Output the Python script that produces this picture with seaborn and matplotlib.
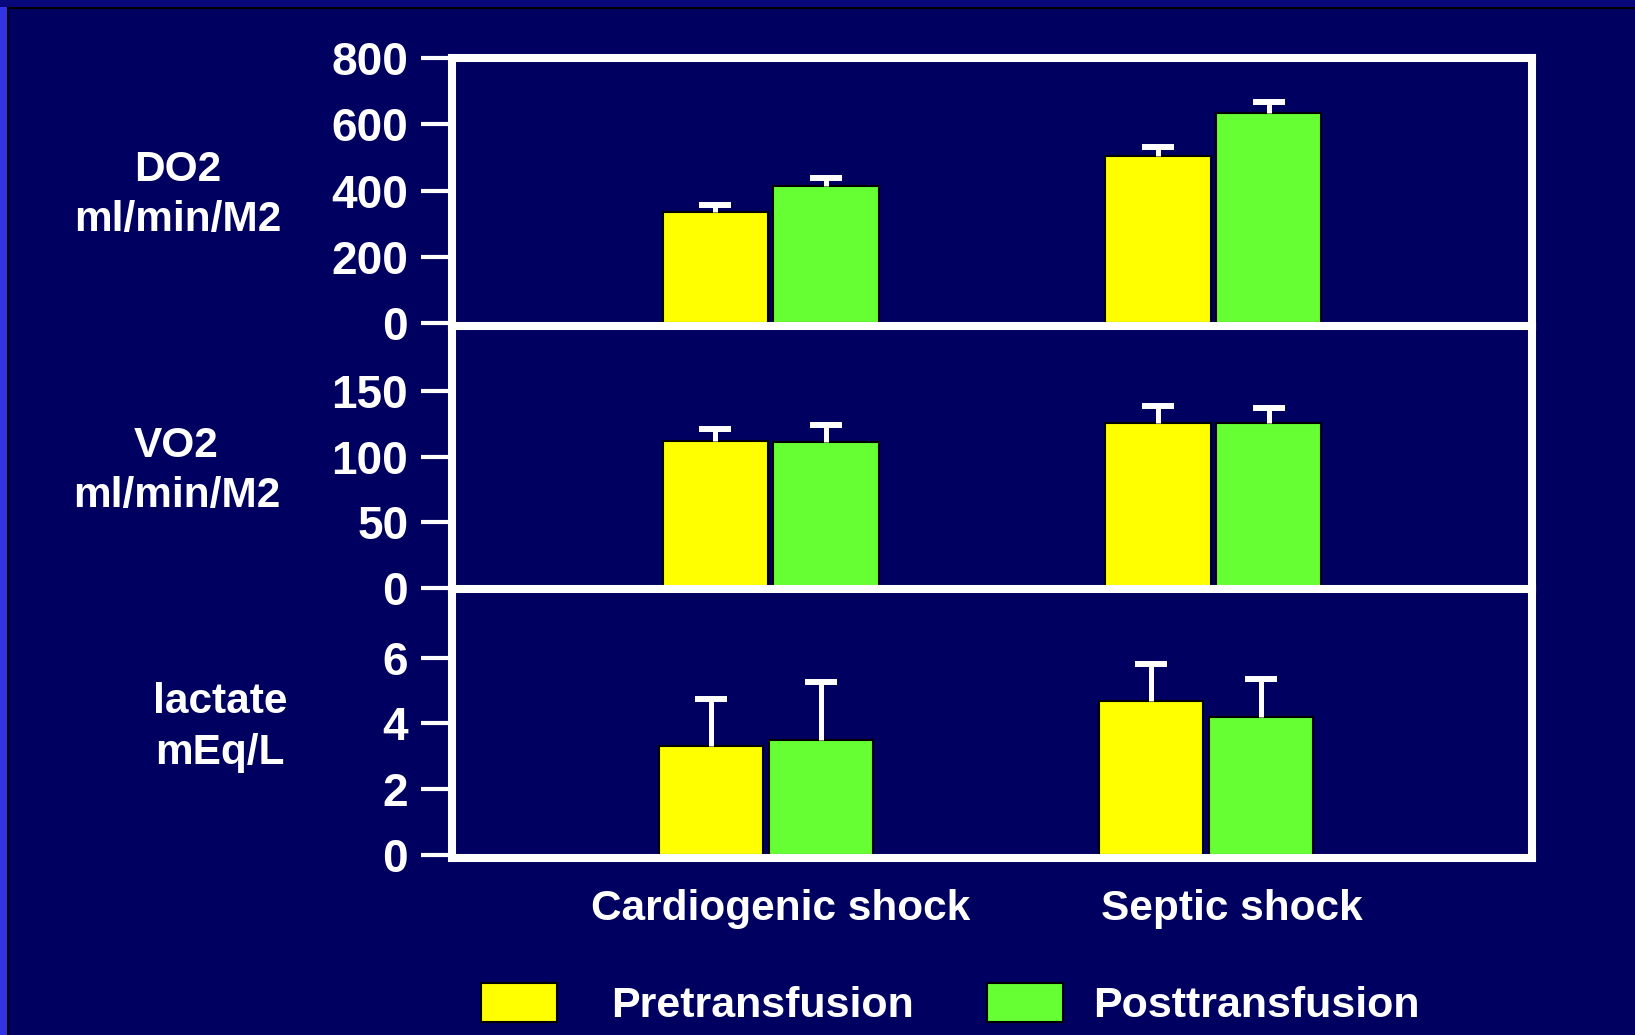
import numpy as np
import pandas as pd
import matplotlib
matplotlib.use('Agg')
import matplotlib.pyplot as plt
import seaborn as sns
from matplotlib.patches import Rectangle

# data
shock = ['Cardiogenic shock', 'Septic shock']
groups = ['Pretransfusion', 'Posttransfusion']

do2_pre = [335, 505]
do2_post = [415, 635]
do2_pre_err = [23, 26]
do2_post_err = [23, 32]

vo2_pre = [112, 126]
vo2_post = [111, 126]
vo2_pre_err = [9, 12.5]
vo2_post_err = [13, 11]

lac_pre = [3.3, 4.7]
lac_post = [3.5, 4.2]
lac_pre_err = [1.45, 1.1]
lac_post_err = [1.77, 1.17]

panel_labels = ['DO2\nml/min/M2', 'VO2\nml/min/M2', 'lactate\nmEq/L']
yticks1 = [0, 200, 400, 600, 800]
yticks2 = [0, 50, 100, 150]
yticks3 = [0, 2, 4, 6]

bg = '#000060'
colors = {'Pretransfusion': '#FFFF00', 'Posttransfusion': '#66FF33'}

sns.set_style('white')
plt.rcParams['font.family'] = ['Liberation Sans', 'DejaVu Sans']
plt.rcParams['font.weight'] = 'bold'


def make_df(pre, post):
    return pd.DataFrame({
        'shock': shock * 2,
        'group': [groups[0]] * 2 + [groups[1]] * 2,
        'value': list(pre) + list(post),
    })


panels = [
    (make_df(do2_pre, do2_post), do2_pre_err, do2_post_err, yticks1, (-8, 800)),
    (make_df(vo2_pre, vo2_post), vo2_pre_err, vo2_post_err, yticks2, (-1, 200)),
    (make_df(lac_pre, lac_post), lac_pre_err, lac_post_err, yticks3, (-0.1, 8.1)),
]

fig = plt.figure(figsize=(16.35, 10.35), dpi=100, facecolor=bg)
gs = fig.add_gridspec(3, 1, left=452 / 1635, right=1532 / 1635,
                      top=1 - 58 / 1035, bottom=1 - 858 / 1035,
                      height_ratios=[268, 263, 269], hspace=0)
axes = [fig.add_subplot(gs[i]) for i in range(3)]

label_pos = [(-0.254, 0.49), (-0.255, 0.45), (-0.215, 0.485)]
xlims = [(-0.72, 1.72), (-0.72, 1.72), (-0.713, 1.741)]

handles, labels = None, None
for i, (ax, (df, err_pre, err_post, yt, yl)) in enumerate(zip(axes, panels)):
    ax.patch.set_visible(False)
    sns.barplot(data=df, x='shock', y='value', hue='group', hue_order=groups,
                order=shock, palette=colors, saturation=1, width=0.5, gap=0.05,
                edgecolor='black', linewidth=1.5, errorbar=None,
                legend=(i == 0), ax=ax, zorder=2)
    if i == 0:
        handles, labels = ax.get_legend_handles_labels()
        ax.get_legend().remove()

    # upper-only error bars on top of each bar
    for cont, errs in zip(ax.containers, [err_pre, err_post]):
        xs = [p.get_x() + p.get_width() / 2 for p in cont]
        hs = [p.get_height() for p in cont]
        eb = ax.errorbar(xs, hs, yerr=[np.zeros(len(errs)), errs], fmt='none',
                         ecolor='white', elinewidth=3.6, capsize=11.5,
                         capthick=4.3, zorder=3)
        eb[1][0].remove()  # drop the lower cap

    ax.set_ylim(*yl)
    ax.set_xlim(*xlims[i])
    ax.set_yticks(yt)
    ax.set_yticklabels([str(v) for v in yt])
    ax.tick_params(axis='y', left=True, colors='white', labelcolor='white',
                   labelsize=33, length=22, width=3, direction='out', pad=9.5)
    for t in ax.get_yticklabels():
        t.set_fontweight('bold')

    ax.set_ylabel(panel_labels[i], rotation=0, color='white', fontsize=30.5,
                  fontweight='bold', ha='center', va='center',
                  multialignment='center', linespacing=1.33)
    ax.yaxis.set_label_coords(*label_pos[i])
    ax.set_xlabel('')

    for side in ['left', 'right', 'bottom', 'top']:
        ax.spines[side].set_color('white')
        ax.spines[side].set_linewidth(5.8)
        ax.spines[side].set_zorder(4)
    if i > 0:
        ax.spines['top'].set_visible(False)

    if i < 2:
        ax.set_xticks([])
    else:
        # category labels sit a little right of the bar groups on the slide
        ax.set_xticks(np.arange(len(shock)) + np.array([0.034, 0.059]))
        ax.set_xticklabels(shock)
        ax.tick_params(axis='x', bottom=False, length=0, labelsize=30.5,
                       labelcolor='white', pad=22)
        for t in ax.get_xticklabels():
            t.set_fontweight('bold')

leg_kw = dict(loc='center left', frameon=False, borderpad=0, borderaxespad=0,
              prop={'size': 31, 'weight': 'bold'}, labelcolor='white',
              handlelength=1.77, handleheight=1.0)
leg1 = fig.legend(handles[:1], labels[:1], bbox_to_anchor=(481 / 1635, 0.029),
                  handletextpad=1.25, **leg_kw)
leg2 = fig.legend(handles[1:], labels[1:], bbox_to_anchor=(987 / 1635, 0.029),
                  handletextpad=0.7, **leg_kw)

# slide border strips
fig.add_artist(Rectangle((0, 0), 7 / 1635, 1, transform=fig.transFigure,
                         facecolor='#3333e6', edgecolor='none', zorder=0))
fig.add_artist(Rectangle((7 / 1635, 0), 2 / 1635, 1 - 7 / 1035,
                         transform=fig.transFigure, facecolor='black',
                         edgecolor='none', zorder=0))
fig.add_artist(Rectangle((0, 1 - 7 / 1035), 1, 7 / 1035, transform=fig.transFigure,
                         facecolor='#08087a', edgecolor='none', zorder=0))
fig.add_artist(Rectangle((7 / 1635, 1 - 9 / 1035), 1, 2 / 1035,
                         transform=fig.transFigure, facecolor='black',
                         edgecolor='none', zorder=0))

fig.savefig('out.png', dpi=100, facecolor=bg)
